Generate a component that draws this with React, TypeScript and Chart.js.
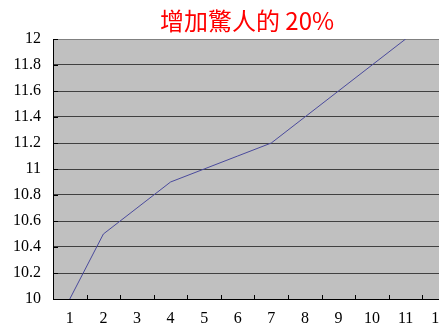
import React, { useEffect, useRef } from "react";
import { Chart, registerables } from "chart.js";

Chart.register(...registerables);

const TITLE = "增加驚人的 20%";
const CATEGORIES = ["1", "2", "3", "4", "5", "6", "7", "8", "9", "10", "11", "12"];
const VALUES = [10, 10.5, 10.7, 10.9, 11.0, 11.1, 11.2, 11.4, 11.6, 11.8, 12.0];
const Y_MIN = 10;
const Y_MAX = 12;
const Y_STEP = 0.2;

const CANVAS_W = 494;
const CANVAS_H = 328;

const plotDecor = {
  id: "plotDecor",
  beforeDraw(chart: any) {
    const { ctx, chartArea } = chart;
    ctx.save();
    ctx.fillStyle = "#c0c0c0";
    ctx.fillRect(chartArea.left, chartArea.top, chartArea.right - chartArea.left, chartArea.bottom - chartArea.top);
    ctx.restore();
  },
  afterDraw(chart: any) {
    const { ctx, chartArea, scales } = chart;
    const xs = scales.x;
    const ys = scales.y;
    ctx.save();
    ctx.strokeStyle = "#000";
    ctx.lineWidth = 1;
    ctx.beginPath();
    for (let i = 1; i < CATEGORIES.length; i++) {
      const x = Math.round((xs.getPixelForValue(i - 1) + xs.getPixelForValue(i)) / 2) + 0.5;
      ctx.moveTo(x, chartArea.bottom);
      ctx.lineTo(x, chartArea.bottom - 4);
    }
    ys.ticks.forEach((t: any) => {
      const y = Math.round(ys.getPixelForValue(t.value)) + 0.5;
      ctx.moveTo(chartArea.left, y);
      ctx.lineTo(chartArea.left + 5, y);
    });
    ctx.stroke();
    ctx.restore();
  },
};

export default function App() {
  const ref = useRef<HTMLCanvasElement>(null);
  useEffect(() => {
    if (!ref.current) return;
    const chart = new Chart(ref.current, {
      type: "line",
      data: {
        labels: CATEGORIES,
        datasets: [
          {
            data: VALUES,
            borderColor: "#4a4a9c",
            borderWidth: 1,
            pointRadius: 0,
            tension: 0,
            fill: false,
            yAxisID: "y",
          },
        ],
      },
      options: {
        responsive: false,
        animation: false,
        devicePixelRatio: 1,
        layout: { padding: 0 },
        plugins: {
          legend: { display: false },
          tooltip: { enabled: false },
          title: {
            display: true,
            text: TITLE,
            color: "#ff0000",
            font: { family: "'Noto Sans CJK TC', 'Noto Sans', sans-serif", size: 24, weight: "normal", lineHeight: 1.2 },
            padding: { top: 6.6, bottom: 3.6 },
          },
        },
        scales: {
          x: {
            offset: true,
            grid: { display: false, drawTicks: false },
            border: { display: true, color: "#000", width: 1 },
            ticks: {
              color: "#000",
              padding: 10,
              maxRotation: 0,
              autoSkip: false,
              font: { family: "'Liberation Serif', serif", size: 16 },
            },
            afterFit: (s: any) => {
              s.height = 29;
            },
          },
          y: {
            min: Y_MIN,
            max: Y_MAX,
            grid: {
              drawTicks: false,
              color: (c: any) => (c.tick && Math.abs(c.tick.value - Y_MAX) < 1e-6 ? "#808080" : "#404040"),
              lineWidth: 1,
            },
            border: { display: true, color: "#000", width: 1 },
            ticks: {
              stepSize: Y_STEP,
              color: "#000",
              padding: 12,
              font: { family: "'Liberation Serif', serif", size: 16 },
              callback: (v: any) => String(Number(Number(v).toFixed(1))),
            },
            afterFit: (s: any) => {
              s.width = 53;
            },
          },
          yRight: {
            position: "right",
            min: Y_MIN,
            max: Y_MAX,
            grid: { display: false, drawTicks: false },
            border: { display: false },
            ticks: { display: false },
            afterFit: (s: any) => {
              s.width = 38;
            },
          },
        },
      },
      plugins: [plotDecor],
    });
    return () => chart.destroy();
  }, []);
  return (
    <div style={{ position: "fixed", left: 0, top: 0, width: 439, height: 328, overflow: "hidden", background: "#fff" }}>
      <canvas ref={ref} width={CANVAS_W} height={CANVAS_H} style={{ width: CANVAS_W, height: CANVAS_H, display: "block" }} />
    </div>
  );
}
